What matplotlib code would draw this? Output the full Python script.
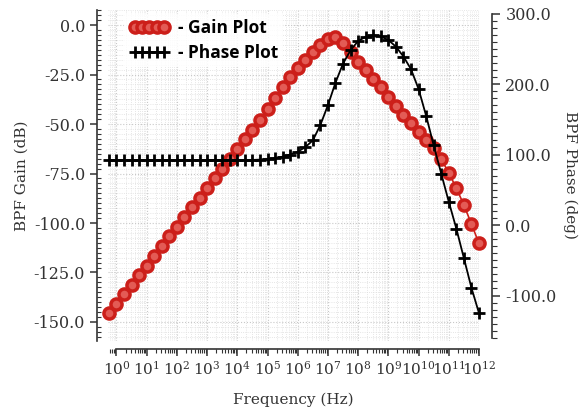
import math
import matplotlib
matplotlib.use("Agg")
import matplotlib.pyplot as plt
from matplotlib.ticker import LogLocator, FuncFormatter, MultipleLocator, NullFormatter, FixedLocator

# log10 of the sweep frequencies (Hz)
log_freq = [-0.25, 0.0, 0.25, 0.5, 0.75, 1.0, 1.25, 1.5, 1.75, 2.0,
            2.25, 2.5, 2.75, 3.0, 3.25, 3.5, 3.75, 4.0, 4.25, 4.5,
            4.75, 5.0, 5.25, 5.5, 5.75, 6.0, 6.25, 6.5, 6.75, 7.0,
            7.25, 7.5, 7.75, 8.0, 8.25, 8.5, 8.75, 9.0, 9.25, 9.5,
            9.75, 10.0, 10.25, 10.5, 10.75, 11.0, 11.25, 11.5, 11.75, 12.0]

gain_db = [-145.6, -140.8, -136.0, -131.2, -126.4, -121.5, -116.6, -111.7, -106.8, -101.9,
           -97.0, -92.1, -87.2, -82.3, -77.4, -72.5, -67.6, -62.7, -57.8, -52.9,
           -48.2, -42.5, -36.9, -31.3, -26.4, -21.9, -17.7, -13.8, -10.1, -7.2,
           -6.2, -8.9, -13.5, -18.5, -22.7, -27.4, -31.5, -36.2, -40.9, -45.5,
           -49.6, -53.9, -58.1, -62.3, -67.8, -74.6, -82.4, -90.9, -100.5, -110.3]

phase_deg = [92.0, 92.0, 92.0, 92.0, 92.0, 92.0, 92.0, 92.0, 92.0, 92.0,
             92.0, 92.0, 92.0, 92.0, 92.0, 92.0, 92.0, 92.0, 92.1, 92.3,
             92.8, 93.6, 95.0, 97.0, 100.0, 104.0, 110.5, 120.0, 142.0, 170.0,
             202.0, 229.0, 248.0, 261.0, 267.0, 269.0, 267.5, 262.5, 253.0, 239.0,
             221.0, 193.0, 155.0, 113.0, 73.0, 33.0, -5.0, -47.0, -89.0, -125.0]

decades = list(range(0, 13))

freq = [10 ** e for e in log_freq]

plt.rcParams['font.family'] = 'DejaVu Serif'
plt.rcParams['mathtext.fontset'] = 'dejavuserif'

fig = plt.figure(figsize=(5.82, 4.17), dpi=100)
ax = fig.add_axes([0.1856, 0.1823, 0.823 - 0.1856, 0.976 - 0.1823])
ax2 = ax.twinx()

# gain curve
g_line, = ax.plot(freq, gain_db, color='#cc1f1a', lw=1.2, marker='o', ms=8,
                  mfc='#e35b55', mec='#cc1f1a', mew=2.5, clip_on=False, zorder=3)
# phase curve
p_line, = ax2.plot(freq, phase_deg, color='black', lw=1.3, marker='+', ms=9,
                   mew=2.0, clip_on=False, zorder=3)

ax.set_xscale('log')
ax.set_xlim(10 ** -0.28, 10 ** 12.0)
ax.set_ylim(-159.6, 7.6)
ax2.set_ylim(-164.5, 305)

ax.xaxis.set_major_locator(FixedLocator([10.0 ** d for d in decades]))
ax.xaxis.set_minor_locator(LogLocator(base=10, subs=range(2, 10), numticks=20))
ax.xaxis.set_major_formatter(FuncFormatter(lambda v, p: r'$10^{%d}$' % round(math.log10(v))))
ax.xaxis.set_minor_formatter(NullFormatter())

ax.yaxis.set_major_locator(MultipleLocator(25))
ax.yaxis.set_minor_locator(MultipleLocator(2.5))
ax.yaxis.set_major_formatter(FuncFormatter(lambda v, p: '%.1f' % v))
ax2.yaxis.set_major_locator(MultipleLocator(100))
ax2.yaxis.set_minor_locator(MultipleLocator(10))
ax2.yaxis.set_major_formatter(FuncFormatter(lambda v, p: '%.1f' % v))

# grid
ax.grid(True, which='major', color='#c8c8c8', ls=':', lw=0.8)
ax.grid(True, which='minor', color='#dddddd', ls=':', lw=0.6)

# spines
for a in (ax, ax2):
    a.spines['top'].set_visible(False)
ax2.spines['left'].set_visible(False)
ax2.spines['bottom'].set_visible(False)
ax.spines['right'].set_visible(False)
ax.spines['left'].set_position(('outward', 8))
ax.spines['bottom'].set_position(('outward', 5.5))
ax.spines['bottom'].set_bounds(1, 1e12)
ax2.spines['right'].set_position(('outward', 9.5))
ax2.spines['right'].set_bounds(-160, 300)
for s in ('left', 'bottom'):
    ax.spines[s].set_color('#333333')
    ax.spines[s].set_linewidth(1.2)
ax2.spines['right'].set_color('#333333')
ax2.spines['right'].set_linewidth(1.2)

ax.tick_params(axis='y', which='major', direction='out', length=5, width=1.1,
               labelsize=11.5, colors='#333333')
ax.tick_params(axis='y', which='minor', direction='in', length=3, width=0.8, colors='#333333')
ax.tick_params(axis='x', which='major', direction='out', length=5, width=1.1,
               labelsize=11, colors='#333333', pad=3)
ax.tick_params(axis='x', which='minor', direction='out', length=3, width=0.8, colors='#333333')
ax2.tick_params(axis='y', which='major', direction='out', length=6, width=1.1,
                labelsize=11.5, colors='#333333')
ax2.tick_params(axis='y', which='minor', direction='out', length=3.5, width=0.8, colors='#333333')

ax.set_xlabel('Frequency (Hz)', fontsize=11, color='#333333', labelpad=11)
ax.set_ylabel('BPF Gain (dB)', fontsize=11, color='#333333', labelpad=4)
ax2.set_ylabel('BPF Phase (deg)', fontsize=11, color='#333333', rotation=270, labelpad=15)

leg = ax2.legend([g_line, p_line], ['- Gain Plot', '- Phase Plot'], loc='upper left',
                 bbox_to_anchor=(0.02, 1.015), numpoints=5, handlelength=2.3,
                 frameon=True, fancybox=False, edgecolor='none', framealpha=0.85,
                 prop={'family': 'Open Sans', 'weight': 'bold', 'size': 12.5},
                 borderpad=0.3, labelspacing=0.4, handletextpad=0.5)

fig.savefig('out.png', dpi=100)
